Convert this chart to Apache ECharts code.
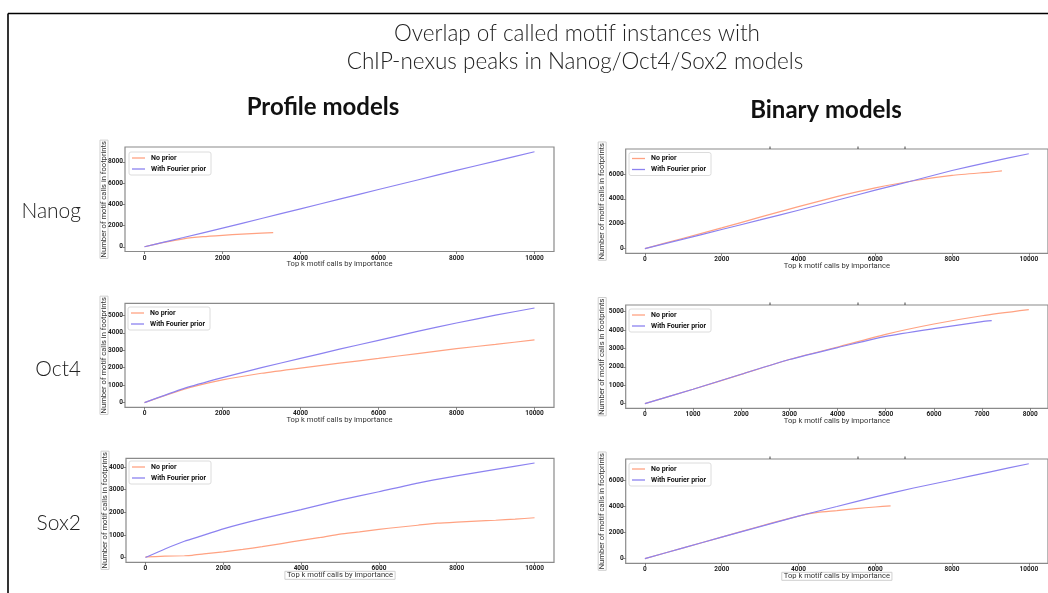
<!DOCTYPE html>
<html>
<head>
<meta charset="utf-8">
<script src="https://cdn.jsdelivr.net/npm/echarts@6/dist/echarts.min.js"></script>
<style>
  html, body { margin: 0; padding: 0; background: #fff; overflow: hidden; }
  #chart { width: 1048px; height: 593px; }
</style>
</head>
<body>
<div id="chart"></div>
<script>
// ---- text ----
const titleLines = ['Overlap of called motif instances with', 'ChIP-nexus peaks in Nanog/Oct4/Sox2 models'];
const columnNames = ['Profile models', 'Binary models'];
const rowNames = ['Nanog', 'Oct4', 'Sox2'];
const seriesNames = ['No prior', 'With Fourier prior'];
const xLabel = 'Top k motif calls by importance';
const yLabel = 'Number of motif calls in footprints';

// ---- Nanog, profile model ----
const nanogProfileNoPriorK = [0, 500, 1000, 1500, 2000, 2500, 3000, 3300];
const nanogProfileNoPriorCalls = [0, 420, 750, 950, 1080, 1190, 1280, 1330];
const nanogProfileFourierK = [0, 500, 1000, 2000, 3000, 4000, 5000, 6000, 7000, 8000, 9000, 10000];
const nanogProfileFourierCalls = [0, 430, 870, 1760, 2660, 3570, 4480, 5390, 6290, 7190, 8070, 8950];

// ---- Nanog, binary model ----
const nanogBinaryNoPriorK = [0, 1000, 2000, 3000, 4000, 5000, 6000, 7000, 8000, 9000, 9300];
const nanogBinaryNoPriorCalls = [0, 830, 1660, 2520, 3370, 4170, 4870, 5450, 5880, 6150, 6240];
const nanogBinaryFourierK = [0, 1000, 2000, 3000, 4000, 5000, 6000, 7000, 8000, 9000, 10000];
const nanogBinaryFourierCalls = [0, 760, 1530, 2300, 3080, 3880, 4690, 5470, 6270, 6970, 7620];

// ---- Oct4, profile model ----
const oct4ProfileK = [0, 1000, 2000, 3000, 4000, 5000, 6000, 7000, 8000, 9000, 10000];
const oct4ProfileNoPriorCalls = [0, 760, 1300, 1680, 1980, 2260, 2530, 2810, 3090, 3340, 3590];
const oct4ProfileFourierCalls = [0, 800, 1430, 2000, 2530, 3060, 3570, 4080, 4560, 5010, 5420];

// ---- Oct4, binary model ----
const oct4BinaryNoPriorK = [0, 1000, 2000, 3000, 4000, 5000, 6000, 7000, 7970];
const oct4BinaryNoPriorCalls = [0, 780, 1590, 2400, 3080, 3770, 4330, 4780, 5110];
const oct4BinaryFourierK = [0, 1000, 2000, 3000, 4000, 5000, 6000, 7000, 7200];
const oct4BinaryFourierCalls = [0, 780, 1600, 2400, 3050, 3660, 4080, 4460, 4510];

// ---- Sox2, profile model ----
const sox2ProfileNoPriorK = [0, 500, 1000, 1200, 1500, 2000, 2500, 3000, 3500, 4000, 4500, 5000, 5500, 6000, 6500, 7000, 7500, 8000, 8500, 9000, 9500, 10000];
const sox2ProfileNoPriorCalls = [30, 60, 80, 100, 160, 250, 360, 480, 620, 760, 890, 1040, 1140, 1250, 1340, 1430, 1520, 1570, 1610, 1650, 1700, 1760];
const sox2ProfileFourierK = [0, 500, 1000, 1500, 2000, 3000, 4000, 5000, 6000, 7000, 8000, 9000, 10000];
const sox2ProfileFourierCalls = [0, 380, 720, 990, 1270, 1720, 2120, 2540, 2910, 3290, 3610, 3900, 4180];

// ---- Sox2, binary model ----
const sox2BinaryNoPriorK = [0, 1000, 2000, 3000, 4000, 4500, 5000, 5500, 6000, 6400];
const sox2BinaryNoPriorCalls = [0, 820, 1650, 2480, 3260, 3540, 3680, 3840, 3960, 4050];
const sox2BinaryFourierK = [0, 1000, 2000, 3000, 4000, 5000, 6000, 7000, 8000, 9000, 10000];
const sox2BinaryFourierCalls = [0, 820, 1640, 2450, 3260, 4000, 4740, 5420, 6030, 6660, 7280];

// ---- tick labels ----
const kTicks10000 = [0, 2000, 4000, 6000, 8000, 10000];
const kTicks8000 = [0, 1000, 2000, 3000, 4000, 5000, 6000, 7000, 8000];
const callTicksBy2000To8000 = [0, 2000, 4000, 6000, 8000];
const callTicksBy2000To6000 = [0, 2000, 4000, 6000];
const callTicksBy1000To5000 = [0, 1000, 2000, 3000, 4000, 5000];
const callTicksBy1000To4000 = [0, 1000, 2000, 3000, 4000];

const colors = { noPrior: '#ffa282', fourier: '#8c82f0' };

// panel layout: plot rectangles in pixels and the data each one draws
const panels = [
  { rect: { left: 125, top: 147, right: 494, bottom: 341.5 }, legend: [129, 152],
    noPrior: [nanogProfileNoPriorK, nanogProfileNoPriorCalls], fourier: [nanogProfileFourierK, nanogProfileFourierCalls],
    xTicks: kTicks10000, yTicks: callTicksBy2000To8000, nameGap: 17 },
  { rect: { left: 625.7, top: 149, right: -6, bottom: 339.7 }, legend: [629, 152.5],
    noPrior: [nanogBinaryNoPriorK, nanogBinaryNoPriorCalls], fourier: [nanogBinaryFourierK, nanogBinaryFourierCalls],
    xTicks: kTicks10000, yTicks: callTicksBy2000To6000, nameGap: 19.5, topMarks: true },
  { rect: { left: 125, top: 303.3, right: 494, bottom: 185.7 }, legend: [128, 307],
    noPrior: [oct4ProfileK, oct4ProfileNoPriorCalls], fourier: [oct4ProfileK, oct4ProfileFourierCalls],
    xTicks: kTicks10000, yTicks: callTicksBy1000To5000, nameGap: 17 },
  { rect: { left: 625.7, top: 305, right: -3, bottom: 184.7 }, legend: [629, 309],
    noPrior: [oct4BinaryNoPriorK, oct4BinaryNoPriorCalls], fourier: [oct4BinaryFourierK, oct4BinaryFourierCalls],
    xTicks: kTicks8000, yTicks: callTicksBy1000To5000, nameGap: 19.5, topMarks: true },
  { rect: { left: 126, top: 458.3, right: 494, bottom: 30.7 }, legend: [129, 461],
    noPrior: [sox2ProfileNoPriorK, sox2ProfileNoPriorCalls], fourier: [sox2ProfileFourierK, sox2ProfileFourierCalls],
    xTicks: kTicks10000, yTicks: callTicksBy1000To4000, nameGap: 17, boxedX: true },
  { rect: { left: 625.7, top: 459, right: -6, bottom: 29.7 }, legend: [629, 463],
    noPrior: [sox2BinaryNoPriorK, sox2BinaryNoPriorCalls], fourier: [sox2BinaryFourierK, sox2BinaryFourierCalls],
    xTicks: kTicks10000, yTicks: callTicksBy2000To6000, nameGap: 19.5, boxedX: true, topMarks: true }
];

const zip = (xs, ys) => xs.map((x, i) => [x, ys[i]]);

// matplotlib-style 5% padding around the data range
function paddedRange(arrays) {
  const all = [].concat(...arrays);
  const lo = Math.min(...all), hi = Math.max(...all);
  const pad = (hi - lo) * 0.05;
  return [lo - pad, hi + pad];
}

const tickFont = { fontFamily: 'Roboto, "DejaVu Sans", sans-serif', fontSize: 6.5, fontWeight: 'bold', color: '#222' };
const nameFont = { fontFamily: 'Roboto, "Liberation Sans", sans-serif', fontSize: 7.6, color: '#333' };
const plain = v => String(v);

const grid = [], xAxis = [], yAxis = [], series = [], legend = [];

panels.forEach((p, i) => {
  grid.push(Object.assign({ show: true, borderColor: '#8a8a8a', borderWidth: 1.2, backgroundColor: '#fff', containLabel: false }, p.rect));

  const [xMin, xMax] = paddedRange([p.noPrior[0], p.fourier[0]]);
  const [yMin, yMax] = paddedRange([p.noPrior[1], p.fourier[1]]);

  xAxis.push({
    type: 'value', gridIndex: i, min: xMin, max: xMax,
    splitLine: { show: false }, axisLine: { show: false, onZero: false },
    axisTick: { show: true, length: 2.5, lineStyle: { color: '#666', width: 0.8 }, customValues: p.xTicks },
    axisLabel: Object.assign({ margin: 3, customValues: p.xTicks, formatter: plain }, tickFont),
    name: xLabel, nameLocation: 'middle', nameGap: 9, nameMoveOverlap: false,
    nameTextStyle: Object.assign({}, nameFont, p.boxedX ? { borderColor: '#cfcfcf', borderWidth: 1, padding: [0, 2, 0, 2] } : {})
  });
  yAxis.push({
    type: 'value', gridIndex: i, min: yMin, max: yMax,
    splitLine: { show: false }, axisLine: { show: false, onZero: false },
    axisTick: { show: true, length: 2.5, lineStyle: { color: '#666', width: 0.8 }, customValues: p.yTicks },
    axisLabel: Object.assign({ margin: 2, customValues: p.yTicks, formatter: plain }, tickFont),
    name: yLabel, nameLocation: 'middle', nameGap: p.nameGap, nameRotate: 90, nameMoveOverlap: false,
    nameTextStyle: Object.assign({}, nameFont, { borderColor: '#cfcfcf', borderWidth: 1, padding: [0, 1, 0, 1] })
  });

  series.push({
    name: seriesNames[0], type: 'line', xAxisIndex: i, yAxisIndex: i,
    data: zip(p.noPrior[0], p.noPrior[1]), symbol: 'none', smooth: 0.2,
    lineStyle: { color: colors.noPrior, width: 1.2 }, itemStyle: { color: colors.noPrior }, z: 2
  });
  series.push({
    name: seriesNames[1], type: 'line', xAxisIndex: i, yAxisIndex: i,
    data: zip(p.fourier[0], p.fourier[1]), symbol: 'none', smooth: 0.2,
    lineStyle: { color: colors.fourier, width: 1.2 }, itemStyle: { color: colors.fourier }, z: 3
  });

  legend.push({
    data: seriesNames, left: p.legend[0], top: p.legend[1], orient: 'vertical',
    icon: 'rect', itemWidth: 13, itemHeight: 1.3, itemGap: 3,
    padding: [2, 5, 2, 3], borderColor: '#dcdcdc', borderWidth: 1, borderRadius: 2, backgroundColor: '#fff',
    selectedMode: false,
    textStyle: { fontFamily: 'Roboto, "DejaVu Sans", sans-serif', fontSize: 7, fontWeight: 'bold', color: '#111', lineHeight: 8, padding: [0, 0, 0, 1] }
  });
});

const lightFont = 'Lato, "Open Sans", sans-serif';
const graphic = [
  // frame around the figure
  { type: 'line', shape: { x1: 8, y1: 13.5, x2: 1048, y2: 13.5 }, style: { stroke: '#000', lineWidth: 1.6 } },
  { type: 'line', shape: { x1: 8, y1: 13.5, x2: 8, y2: 593 }, style: { stroke: '#000', lineWidth: 1.6 } },
  { type: 'text', x: 577, y: 34, style: { text: titleLines[0], font: '300 22.5px ' + lightFont, fill: '#222', textAlign: 'center', textVerticalAlign: 'middle' } },
  { type: 'text', x: 575, y: 62, style: { text: titleLines[1], font: '300 22.5px ' + lightFont, fill: '#222', textAlign: 'center', textVerticalAlign: 'middle' } },
  { type: 'text', x: 323, y: 107, style: { text: columnNames[0], font: 'bold 24px ' + lightFont, fill: '#111', textAlign: 'center', textVerticalAlign: 'middle' } },
  { type: 'text', x: 826, y: 110, style: { text: columnNames[1], font: 'bold 24px ' + lightFont, fill: '#111', textAlign: 'center', textVerticalAlign: 'middle' } },
  { type: 'text', x: 81, y: 211, style: { text: rowNames[0], font: '300 21px ' + lightFont, fill: '#222', textAlign: 'right', textVerticalAlign: 'middle' } },
  { type: 'text', x: 81, y: 369, style: { text: rowNames[1], font: '300 21px ' + lightFont, fill: '#222', textAlign: 'right', textVerticalAlign: 'middle' } },
  { type: 'text', x: 81, y: 523, style: { text: rowNames[2], font: '300 21px ' + lightFont, fill: '#222', textAlign: 'right', textVerticalAlign: 'middle' } }
];

// small dark marks sitting on the top edge of the binary-model panels
const topMarkXs = [770, 858, 905];
panels.filter(p => p.topMarks).forEach(p => {
  topMarkXs.forEach(x => graphic.push({
    type: 'line', shape: { x1: x, y1: p.rect.top - 2.5, x2: x, y2: p.rect.top }, style: { stroke: '#444', lineWidth: 1 }
  }));
});

const chart = echarts.init(document.getElementById('chart'), null, { renderer: 'canvas' });
chart.setOption({
  animation: false,
  backgroundColor: '#fff',
  grid, xAxis, yAxis, series, legend, graphic
});
</script>
</body>
</html>
